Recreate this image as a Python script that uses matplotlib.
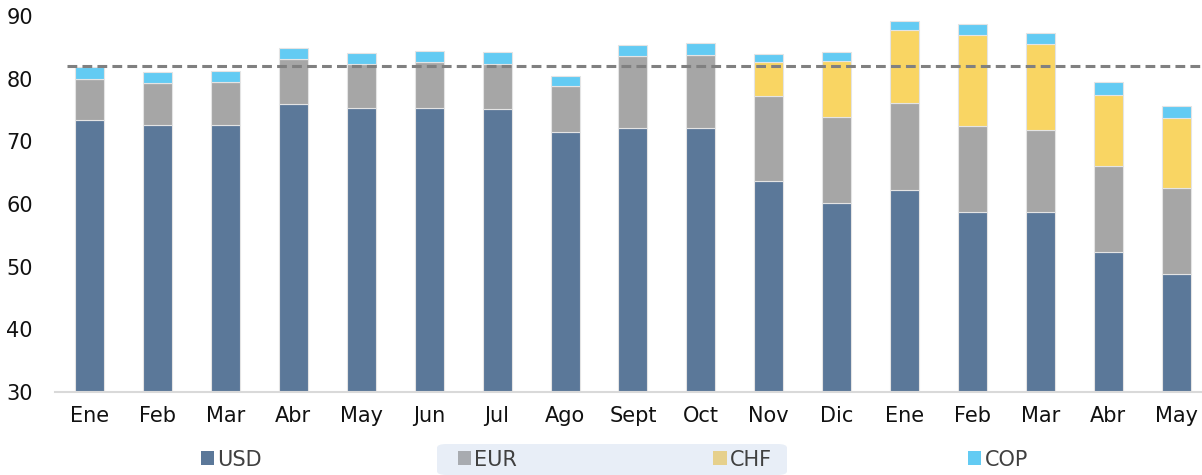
import matplotlib
matplotlib.use("Agg")
import matplotlib.pyplot as plt
from matplotlib.patches import Patch, FancyBboxPatch
import numpy as np

categories = ["Ene", "Feb", "Mar", "Abr", "May", "Jun", "Jul", "Ago", "Sept",
              "Oct", "Nov", "Dic", "Ene", "Feb", "Mar", "Abr", "May"]
usd = [73.4, 72.6, 72.6, 76.0, 75.3, 75.3, 75.2, 71.5, 72.1, 72.2, 63.6, 60.2, 62.2, 58.8, 58.8, 52.4, 48.8]
eur = [6.6, 6.7, 6.9, 7.2, 7.0, 7.3, 7.2, 7.3, 11.5, 11.6, 13.7, 13.7, 13.9, 13.7, 13.0, 13.7, 13.7]
chf = [0, 0, 0, 0, 0, 0, 0, 0, 0, 0, 5.3, 8.9, 11.6, 14.4, 13.7, 11.3, 11.3]
cop = [1.8, 1.7, 1.7, 1.7, 1.8, 1.8, 1.8, 1.7, 1.8, 1.9, 1.4, 1.4, 1.5, 1.8, 1.8, 2.0, 1.9]
reference_level = 82.1
series_names = ["USD", "EUR", "CHF", "COP"]
yticks = [30, 40, 50, 60, 70, 80, 90]

colors = ["#5b7899", "#a6a6a6", "#f9d563", "#63cbf3"]
legend_colors = ["#5b7899", "#a8abb0", "#e6d08c", "#63cbf3"]

fig = plt.figure(figsize=(12.02, 4.75), dpi=100)
ax = fig.add_axes([55 / 1202, 83 / 475, 1 - 55 / 1202, (392 - 16) / 475])

x = np.arange(len(categories))
bottom = np.zeros(len(categories))
for vals, c in zip([usd, eur, chf, cop], colors):
    v = np.array(vals, dtype=float)
    ax.bar(x, v, 0.427, bottom=bottom, color=c, edgecolor="#e4e4e4",
           linewidth=0.8, zorder=2)
    bottom = bottom + v

ax.hlines(reference_level, -0.33, 16.38, color="#808080",
          linestyle=(0, (3.2, 1.7)), linewidth=2.2, zorder=3)

ax.set_xlim(-0.51, 16.38)
ax.set_ylim(30, 90)
ax.set_yticks(yticks)
ax.set_xticks(x)
ax.set_xticklabels(categories)
ax.tick_params(axis="both", length=0, labelsize=15, colors="#111111")
ax.tick_params(axis="y", pad=16)
ax.tick_params(axis="x", pad=10)
for s in ["top", "right", "left"]:
    ax.spines[s].set_visible(False)
ax.spines["bottom"].set_color("#d9d9d9")
ax.spines["bottom"].set_linewidth(1.5)

# highlighted legend background
bg = FancyBboxPatch((437 / 1202, 0.0), (787 - 437) / 1202, (475 - 444) / 475,
                    boxstyle="round,pad=0,rounding_size=0.008",
                    transform=fig.transFigure, facecolor="#e8eef7",
                    edgecolor="none", zorder=0)
fig.patches.append(bg)

handles = [Patch(facecolor=c, edgecolor="none") for c in legend_colors]
leg = fig.legend(handles, series_names, loc="center",
                 bbox_to_anchor=(0.511, 15.5 / 475), ncol=4, frameon=False,
                 fontsize=15, handlelength=0.65, handleheight=0.65,
                 handletextpad=0.15, columnspacing=9.4, borderpad=0)
for t in leg.get_texts():
    t.set_color("#404040")

fig.savefig("out.png", dpi=100)
